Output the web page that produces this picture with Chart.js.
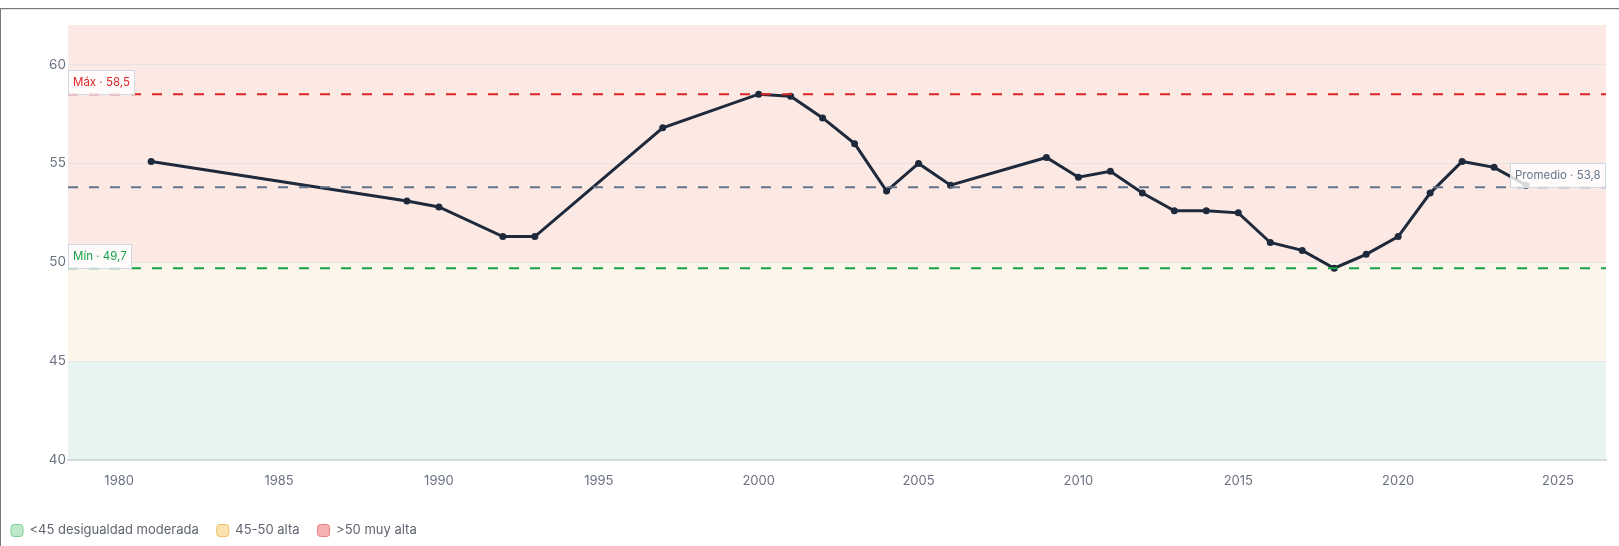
<!DOCTYPE html>
<html lang="es">
<head>
<meta charset="utf-8">
<title>Coeficiente de Gini</title>
<script src="https://cdn.jsdelivr.net/npm/chart.js@4.4.1/dist/chart.umd.min.js"></script>
<style>
  html, body { margin: 0; padding: 0; background: #fff; }
  #wrap { position: relative; width: 1619px; height: 546px; overflow: hidden; }
  #frame {
    position: absolute; left: 0; top: 8px; width: 1700px; height: 600px;
    border-top: 1px solid #7a7a7a; border-left: 1px solid #7a7a7a;
    box-shadow: inset 0 1px 0 #e4e4e4; pointer-events: none;
  }
  canvas { position: absolute; left: 0; top: 0; }
</style>
</head>
<body>
<div id="wrap">
  <canvas id="gini-chart" width="1619" height="546"></canvas>
  <div id="frame"></div>
</div>
<script>
// datos
const years = [1981, 1989, 1990, 1992, 1993, 1997, 2000, 2001, 2002, 2003, 2004, 2005, 2006,
  2009, 2010, 2011, 2012, 2013, 2014, 2015, 2016, 2017, 2018, 2019, 2020, 2021, 2022, 2023, 2024];
const giniValues = [55.1, 53.1, 52.8, 51.3, 51.3, 56.8, 58.5, 58.4, 57.3, 56.0, 53.6, 55.0, 53.9,
  55.3, 54.3, 54.6, 53.5, 52.6, 52.6, 52.5, 51.0, 50.6, 49.7, 50.4, 51.3, 53.5, 55.1, 54.8, 53.9];
const xTicks = [1980, 1985, 1990, 1995, 2000, 2005, 2010, 2015, 2020, 2025];
const yTicks = [40, 45, 50, 55, 60];
const bandEdges = [40, 45, 50, 62];
const bandLabels = ['<45 desigualdad moderada', '45-50 alta', '>50 muy alta'];
const refNames = ['Máx', 'Promedio', 'Mín'];
const refValues = [58.5, 53.8, 49.7];

// estilos
const FONT = 'Inter';
const bandFill = ['#e8f4ef', '#fcf5ea', '#fce9e4'];
const legendFill = ['#bde9c9', '#fbe2ae', '#f6b3b3'];
const legendStroke = ['#7fd39a', '#efc067', '#e98080'];
const refColors = ['#dc2626', '#64748b', '#16a34a'];
const refAlign = ['left', 'right', 'left'];

const bandsPlugin = {
  id: 'bands',
  beforeDraw(chart) {
    const { ctx, chartArea, scales: { y } } = chart;
    ctx.save();
    bandFill.forEach((color, i) => {
      const top = y.getPixelForValue(bandEdges[i + 1]);
      const bottom = y.getPixelForValue(bandEdges[i]);
      ctx.fillStyle = color;
      ctx.fillRect(chartArea.left, top, chartArea.right - chartArea.left, bottom - top);
    });
    ctx.restore();
  },
};

const refLinesPlugin = {
  id: 'refLines',
  afterDatasetsDraw(chart) {
    const { ctx, chartArea, scales: { y } } = chart;
    ctx.save();
    ctx.lineWidth = 2;
    ctx.setLineDash([10, 11]);
    refValues.forEach((v, i) => {
      const py = y.getPixelForValue(v);
      ctx.strokeStyle = refColors[i];
      ctx.beginPath();
      ctx.moveTo(chartArea.left, py);
      ctx.lineTo(chartArea.right, py);
      ctx.stroke();
    });
    ctx.setLineDash([]);
    ctx.font = '11.5px ' + FONT;
    ctx.textBaseline = 'middle';
    refValues.forEach((v, i) => {
      const py = Math.round(y.getPixelForValue(v));
      const text = refNames[i] + ' · ' + v.toFixed(1).replace('.', ',');
      const w = Math.round(ctx.measureText(text).width + 10);
      const h = 25;
      const x = refAlign[i] === 'left' ? chartArea.left : Math.round(chartArea.right) - w;
      ctx.fillStyle = 'rgba(255, 255, 255, 0.82)';
      ctx.fillRect(x, py - h + 1, w, h);
      ctx.strokeStyle = '#cfd8e3';
      ctx.lineWidth = 1;
      ctx.strokeRect(x + 0.5, py - h + 1.5, w - 1, h - 1);
      ctx.fillStyle = refColors[i];
      ctx.fillText(text, x + 5, py - h / 2 + 1);
    });
    ctx.restore();
  },
};

const ctx = document.getElementById('gini-chart');

new Chart(ctx, {
  type: 'line',
  data: {
    datasets: [
      {
        label: 'Gini',
        data: years.map((year, i) => ({ x: year, y: giniValues[i] })),
        borderColor: '#1e293b',
        backgroundColor: '#1e293b',
        borderWidth: 3,
        pointRadius: 3.5,
        pointBorderWidth: 0,
        tension: 0,
      },
    ],
  },
  options: {
    responsive: false,
    animation: false,
    devicePixelRatio: 1,
    layout: { padding: { top: 25, right: 13, bottom: -1, left: -7 } },
    scales: {
      x: {
        type: 'linear',
        min: 1978.4,
        max: 2026.5,
        afterBuildTicks: (axis) => { axis.ticks = xTicks.map((value) => ({ value })); },
        afterFit: (axis) => { axis.height = 46; },
        grid: { display: false },
        border: { display: true, color: '#d5dce1', width: 2 },
        ticks: {
          autoSkip: false,
          maxRotation: 0,
          padding: 5,
          color: '#6b7280',
          font: { family: FONT, size: 13 },
          callback: (value) => String(value),
        },
      },
      y: {
        min: 40,
        max: 62,
        afterBuildTicks: (axis) => { axis.ticks = yTicks.map((value) => ({ value })); },
        afterFit: (axis) => { axis.width = 75; },
        grid: { color: '#e7e3e4', drawTicks: false },
        border: { display: false },
        ticks: {
          padding: 2,
          color: '#6b7280',
          font: { family: FONT, size: 13.5 },
        },
      },
    },
    plugins: {
      tooltip: { enabled: false },
      legend: {
        position: 'bottom',
        align: 'start',
        onClick: null,
        labels: {
          font: { family: FONT, size: 13 },
          color: '#5f6570',
          boxWidth: 12,
          boxHeight: 12,
          padding: 18,
          generateLabels: () => bandLabels.map((text, i) => ({
            text,
            fillStyle: legendFill[i],
            strokeStyle: legendStroke[i],
            lineWidth: 1,
            borderRadius: 3,
            hidden: false,
            fontColor: '#5f6570',
            index: i,
          })),
        },
      },
    },
  },
  plugins: [bandsPlugin, refLinesPlugin],
});
</script>
</body>
</html>
